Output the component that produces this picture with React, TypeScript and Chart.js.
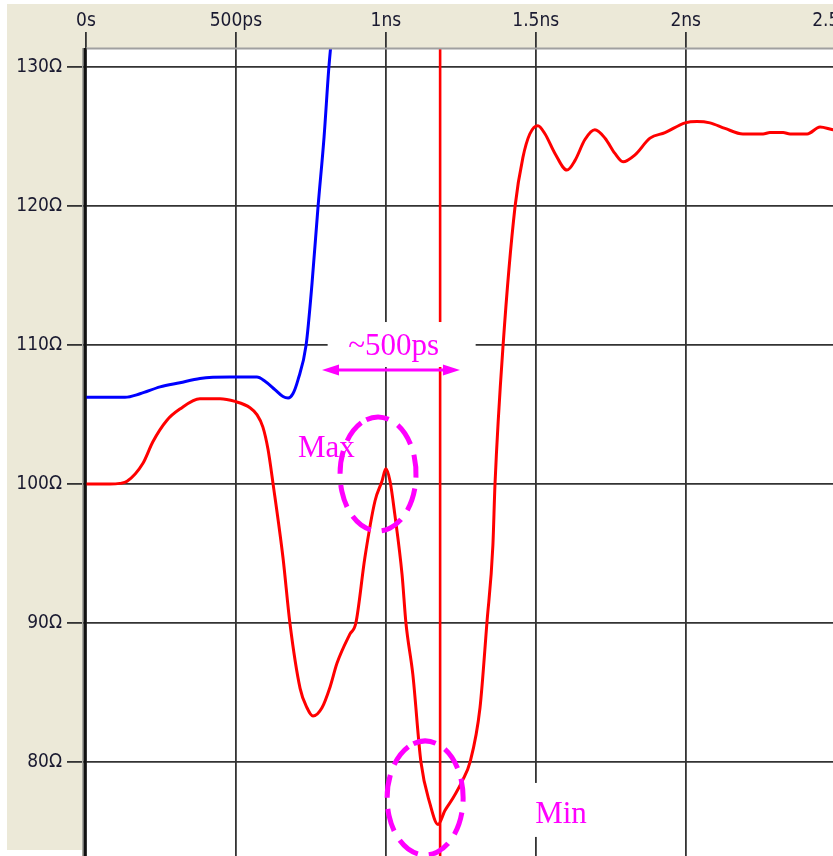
import React, { useEffect, useRef } from 'react';
import { Chart, registerables } from 'chart.js';

Chart.register(...registerables);

// ---- axis ticks ----
const TIME_TICKS = [0, 500, 1000, 1500, 2000, 2500];
const TIME_TICK_LABELS = ['0s', '500ps', '1ns', '1.5ns', '2ns', '2.5ns'];
const Z_TICKS = [80, 90, 100, 110, 120, 130];
const Z_TICK_LABELS = ['80Ω', '90Ω', '100Ω', '110Ω', '120Ω', '130Ω'];

// ---- red trace: time (ps) / impedance (Ω) ----
const RED_T = [
  0, 80, 113, 137, 190, 223, 270, 313, 380, 447, 497, 547, 570, 590, 607, 624,
  657, 680, 714, 737, 757, 787, 814, 837, 880, 900, 930, 964, 987, 1000, 1014,
  1030, 1054, 1067, 1090, 1117, 1147, 1174, 1197, 1224, 1254, 1281, 1314, 1337,
  1357, 1364, 1391, 1431, 1457, 1480, 1507, 1531, 1564, 1604, 1631, 1664, 1697,
  1731, 1764, 1791, 1831, 1881, 1931, 1998, 2038, 2081, 2131, 2191, 2258, 2281,
  2325, 2348, 2405, 2448, 2491, 2530,
];
const RED_Z = [
  100, 100, 100.05, 100.2, 101.5, 103.05, 104.6, 105.4, 106.15, 106.15, 105.95,
  105.5, 105.0, 104.1, 102.5, 100.0, 94.7, 90.0, 85.3, 83.9, 83.3, 83.9, 85.4,
  87.1, 89.2, 90.0, 94.7, 98.8, 100.2, 101.1, 100.2, 97.8, 93.5, 90.0, 86.3,
  80.0, 77.0, 75.5, 76.5, 77.4, 78.6, 80.0, 83.9, 90.0, 95.6, 100.0, 110.0,
  120.0, 123.5, 125.2, 125.8, 125.2, 123.8, 122.6, 123.3, 124.8, 125.5, 124.9,
  123.8, 123.2, 123.7, 124.9, 125.3, 126.0, 126.1, 126.0, 125.6, 125.2, 125.2,
  125.3, 125.3, 125.2, 125.2, 125.7, 125.5, 125.4,
];

// ---- blue trace ----
const BLUE_T = [0, 130, 180, 247, 313, 380, 480, 570, 597, 630, 657, 674, 690, 707, 734, 754, 774, 794, 810, 830];
const BLUE_Z = [106.25, 106.25, 106.5, 107.0, 107.3, 107.6, 107.7, 107.7, 107.4, 106.8, 106.3, 106.2, 106.5, 107.5, 110.0, 114.5, 120.0, 125.0, 130.0, 134.5];

// ---- cursor & annotations (data coordinates) ----
const CURSOR_T = 1181;
const SPAN_LABEL = '~500ps';
const SPAN_FROM_T = 787;
const SPAN_TO_T = 1247;
const SPAN_Z = 108.21;
const SPAN_LABEL_T = 1026;
const SPAN_LABEL_Z = 109.29;
const MAX_LABEL = 'Max';
const MAX_LABEL_T = 707;
const MAX_LABEL_Z = 101.95;
const MAX_RING_T = 974;
const MAX_RING_Z = 100.73;
const MIN_LABEL = 'Min';
const MIN_LABEL_T = 1498;
const MIN_LABEL_Z = 75.61;
const MIN_RING_T = 1131;
const MIN_RING_Z = 77.41;

const X_MAX = 2648;
const Y_MIN = 73.23;
const Y_MAX = 131.39;

const CANVAS_W = 880;
const CANVAS_H = 856;
const BEIGE = '#ECE9D8';
const GRID = '#333333';
const RED = '#ff0000';
const BLUE = '#0000ff';
const MAGENTA = '#ff00ff';
const TICK_FONT = "'Liberation Sans Narrow', 'DejaVu Sans Condensed', sans-serif";
const NOTE_FONT = "31px 'Liberation Serif', 'Times New Roman', serif";

const framePlugin = {
  id: 'frame',
  beforeDraw(chart: any) {
    const { ctx, width, height, chartArea } = chart;
    ctx.save();
    ctx.fillStyle = '#ffffff';
    ctx.fillRect(0, 0, width, height);
    ctx.fillStyle = BEIGE;
    ctx.fillRect(7, 4, width - 7, chartArea.top - 4);
    ctx.fillRect(7, 4, chartArea.left - 4 - 7, 846);
    ctx.restore();
  },
  afterDatasetsDraw(chart: any) {
    const { ctx, chartArea, scales } = chart;
    const x = scales.x.getPixelForValue(CURSOR_T);
    ctx.save();
    ctx.beginPath();
    ctx.rect(chartArea.left, chartArea.top, chartArea.right - chartArea.left, chartArea.bottom - chartArea.top);
    ctx.clip();
    ctx.strokeStyle = RED;
    ctx.lineWidth = 2.6;
    ctx.beginPath();
    ctx.moveTo(x, chartArea.top);
    ctx.lineTo(x, chartArea.bottom);
    ctx.stroke();
    ctx.restore();
  },
  afterDraw(chart: any) {
    const { ctx, chartArea, scales, height, width } = chart;
    const sx = scales.x;
    const sy = scales.y;
    ctx.save();
    // plot frame
    ctx.fillStyle = '#a0a0a0';
    ctx.fillRect(chartArea.left, chartArea.top - 0.5, width, 2);
    ctx.fillStyle = '#a8a8a0';
    ctx.fillRect(chartArea.left - 4, chartArea.top, 1.5, height);
    ctx.fillStyle = '#111111';
    ctx.fillRect(chartArea.left - 2.5, chartArea.top, 3, height);

    ctx.font = NOTE_FONT;
    ctx.textBaseline = 'alphabetic';

    // span label with white backing
    const lx = sx.getPixelForValue(SPAN_LABEL_T);
    const ly = sy.getPixelForValue(SPAN_LABEL_Z);
    ctx.fillStyle = '#ffffff';
    ctx.fillRect(lx - 66, ly - 33, 148, 45);
    ctx.fillStyle = MAGENTA;
    ctx.textAlign = 'center';
    ctx.fillText(SPAN_LABEL, lx, ly);

    // min label with white backing
    const mx = sx.getPixelForValue(MIN_LABEL_T);
    const my = sy.getPixelForValue(MIN_LABEL_Z);
    ctx.fillStyle = '#ffffff';
    ctx.fillRect(mx - 7, my - 40, 68, 54);
    ctx.fillStyle = MAGENTA;
    ctx.textAlign = 'left';
    ctx.fillText(MIN_LABEL, mx, my);

    // max label
    ctx.fillText(MAX_LABEL, sx.getPixelForValue(MAX_LABEL_T), sy.getPixelForValue(MAX_LABEL_Z));

    // double arrow
    const ax1 = sx.getPixelForValue(SPAN_FROM_T);
    const ax2 = sx.getPixelForValue(SPAN_TO_T);
    const ay = sy.getPixelForValue(SPAN_Z);
    const head = 17;
    const hh = 5.5;
    ctx.strokeStyle = MAGENTA;
    ctx.lineWidth = 3;
    ctx.beginPath();
    ctx.moveTo(ax1 + head - 2, ay);
    ctx.lineTo(ax2 - head + 2, ay);
    ctx.stroke();
    ctx.beginPath();
    ctx.moveTo(ax1, ay);
    ctx.lineTo(ax1 + head, ay - hh);
    ctx.lineTo(ax1 + head, ay + hh);
    ctx.closePath();
    ctx.fill();
    ctx.beginPath();
    ctx.moveTo(ax2, ay);
    ctx.lineTo(ax2 - head, ay - hh);
    ctx.lineTo(ax2 - head, ay + hh);
    ctx.closePath();
    ctx.fill();

    // dashed rings
    ctx.lineWidth = 5;
    ctx.setLineDash([23, 11]);
    const rings = [
      [MAX_RING_T, MAX_RING_Z],
      [MIN_RING_T, MIN_RING_Z],
    ];
    for (const [t, z] of rings) {
      ctx.beginPath();
      ctx.ellipse(sx.getPixelForValue(t), sy.getPixelForValue(z), 38, 57, 0, -Math.PI * 0.6, Math.PI * 1.4);
      ctx.stroke();
    }
    ctx.restore();
  },
};

export default function App() {
  const ref = useRef<HTMLCanvasElement>(null);

  useEffect(() => {
    const canvas = ref.current;
    if (!canvas) return;
    const red = RED_T.map((t, i) => ({ x: t, y: RED_Z[i] }));
    const blue = BLUE_T.map((t, i) => ({ x: t, y: BLUE_Z[i] }));
    const chart = new Chart(canvas, {
      type: 'line',
      data: {
        datasets: [
          {
            data: blue,
            borderColor: BLUE,
            borderWidth: 3,
            pointRadius: 0,
            cubicInterpolationMode: 'monotone',
            clip: 0,
          },
          {
            data: red,
            borderColor: RED,
            borderWidth: 3,
            pointRadius: 0,
            cubicInterpolationMode: 'monotone',
            clip: 0,
          },
        ],
      },
      options: {
        animation: false,
        responsive: false,
        devicePixelRatio: 1,
        events: [],
        layout: { padding: 0 },
        plugins: { legend: { display: false }, tooltip: { enabled: false } },
        scales: {
          x: {
            type: 'linear',
            position: 'top',
            min: 0,
            max: X_MAX,
            afterBuildTicks: (s: any) => {
              s.ticks = TIME_TICKS.map((v) => ({ value: v }));
            },
            afterFit: (s: any) => {
              s.height = 48;
              s.paddingLeft = 0;
              s.paddingRight = 0;
            },
            ticks: {
              autoSkip: false,
              maxRotation: 0,
              minRotation: 0,
              padding: 0,
              color: '#1a1a30',
              font: { family: TICK_FONT, size: 19 },
              callback: (v: any) => TIME_TICK_LABELS[TIME_TICKS.indexOf(Number(v))] ?? '',
            },
            grid: { color: GRID, lineWidth: 1.8, tickLength: 16, drawTicks: true },
            border: { display: false },
          },
          y: {
            type: 'linear',
            position: 'left',
            min: Y_MIN,
            max: Y_MAX,
            afterBuildTicks: (s: any) => {
              s.ticks = Z_TICKS.map((v) => ({ value: v }));
            },
            afterFit: (s: any) => {
              s.width = 86;
              s.paddingTop = 0;
              s.paddingBottom = 0;
            },
            ticks: {
              autoSkip: false,
              padding: 5,
              color: '#1a1a30',
              font: { family: TICK_FONT, size: 19 },
              callback: (v: any) => Z_TICK_LABELS[Z_TICKS.indexOf(Number(v))] ?? '',
            },
            grid: { color: GRID, lineWidth: 1.8, tickLength: 19, drawTicks: true },
            border: { display: false },
          },
        },
      },
      plugins: [framePlugin],
    } as any);
    return () => chart.destroy();
  }, []);

  return (
    <div
      style={{
        position: 'fixed',
        left: 0,
        top: 0,
        width: 833,
        height: 856,
        overflow: 'hidden',
        background: '#ffffff',
      }}
    >
      <canvas
        ref={ref}
        width={CANVAS_W}
        height={CANVAS_H}
        style={{ display: 'block', width: CANVAS_W, height: CANVAS_H }}
      />
    </div>
  );
}
